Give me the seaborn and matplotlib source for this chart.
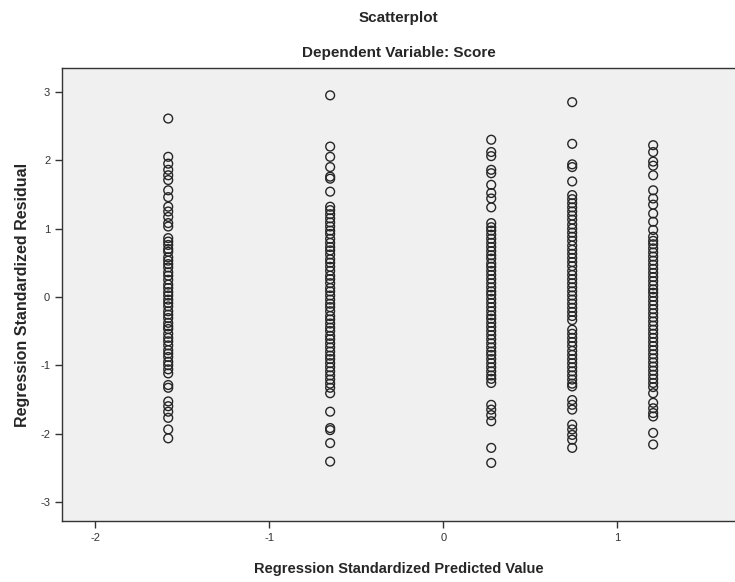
import matplotlib
matplotlib.use("Agg")
import matplotlib.pyplot as plt
import pandas as pd
import seaborn as sns

# standardized predicted values (one per group)
predicted = [-1.58, -0.65, 0.275, 0.74, 1.205]

# standardized residuals
resid_1 = [2.61, 2.05, 1.95, 1.86, 1.78, 1.71, 1.56, 1.46, 1.32, 1.25, 1.17, 1.08, 1.03,
           0.86, 0.81, 0.76, 0.70, 0.66, 0.58, 0.53, 0.48, 0.43, 0.36, 0.31, 0.25, 0.18,
           0.13, 0.07, 0.02, -0.04, -0.09, -0.14, -0.21, -0.26, -0.31, -0.38, -0.43, -0.47,
           -0.54, -0.60, -0.65, -0.71, -0.78, -0.83, -0.88, -0.95, -1.00, -1.06, -1.12,
           -1.29, -1.33, -1.53, -1.60, -1.68, -1.77, -1.94, -2.07]
resid_2 = [2.95, 2.20, 2.05, 1.90, 1.76, 1.73, 1.54,
           1.32, 1.27, 1.21, 1.15, 1.09, 1.03, 0.97, 0.92, 0.85, 0.79, 0.73, 0.68, 0.62,
           0.55, 0.50, 0.44, 0.38, 0.31, 0.26, 0.20, 0.13, 0.08, 0.02, -0.04, -0.10, -0.15,
           -0.21, -0.28, -0.33, -0.39, -0.45, -0.50, -0.57, -0.62, -0.68, -0.74, -0.80,
           -0.86, -0.91, -0.97, -1.03, -1.09, -1.15, -1.21, -1.27, -1.33, -1.41,
           -1.68, -1.92, -1.95, -2.14, -2.41]
resid_3 = [2.30, 2.12, 2.06, 1.86, 1.81, 1.64, 1.52, 1.44, 1.31,
           1.08, 1.02, 0.97, 0.91, 0.85, 0.79, 0.73, 0.67, 0.61, 0.56, 0.49, 0.44, 0.38,
           0.32, 0.26, 0.20, 0.14, 0.08, 0.03, -0.03, -0.09, -0.15, -0.21, -0.27, -0.32,
           -0.38, -0.44, -0.50, -0.56, -0.62, -0.68, -0.74, -0.80, -0.85, -0.91, -0.97,
           -1.03, -1.09, -1.15, -1.20, -1.26,
           -1.58, -1.65, -1.73, -1.82, -2.21, -2.43]
resid_4 = [2.85, 2.24, 1.94, 1.90, 1.69,
           1.49, 1.43, 1.37, 1.31, 1.25, 1.19, 1.13, 1.06, 1.00, 0.94, 0.88, 0.82, 0.75,
           0.69, 0.63, 0.57, 0.51, 0.45, 0.38, 0.32, 0.26, 0.20, 0.14, 0.08, 0.02, -0.04,
           -0.10, -0.16, -0.22, -0.28, -0.34,
           -0.48, -0.54, -0.60, -0.66, -0.72, -0.79, -0.85, -0.91, -0.97, -1.03, -1.09,
           -1.15, -1.21, -1.27, -1.31,
           -1.51, -1.58, -1.65, -1.87, -1.94, -2.02, -2.09, -2.21]
resid_5 = [2.22, 2.12, 1.98, 1.92, 1.78, 1.56, 1.44, 1.35, 1.22, 1.10, 0.98,
           0.88, 0.82, 0.77, 0.71, 0.65, 0.59, 0.53, 0.47, 0.41, 0.35, 0.29, 0.23, 0.17,
           0.11, 0.06, 0.00, -0.06, -0.12, -0.18, -0.24, -0.30, -0.36, -0.42, -0.48, -0.54,
           -0.60, -0.66, -0.72, -0.78, -0.84, -0.90, -0.96, -1.02, -1.08, -1.14, -1.20,
           -1.26, -1.32, -1.41,
           -1.55, -1.63, -1.70, -1.75, -1.99, -2.16]

residuals = [resid_1, resid_2, resid_3, resid_4, resid_5]

rows = []
for xv, ys in zip(predicted, residuals):
    for yv in ys:
        rows.append({"pred": xv, "resid": yv})
df = pd.DataFrame(rows)

sns.set_theme(style="ticks", rc={"axes.facecolor": "#F0F0F0",
                                 "axes.edgecolor": "#333333",
                                 "axes.linewidth": 1.0})
plt.rcParams["font.family"] = ["Liberation Sans", "DejaVu Sans"]
plt.rcParams["axes.unicode_minus"] = False

fig = plt.figure(figsize=(7.35, 5.82), dpi=100)
ax = fig.add_axes([62 / 735, 61 / 582, 673 / 735, 453 / 582])

sns.scatterplot(data=df, x="pred", y="resid", ax=ax, marker="o",
                facecolor="none", edgecolor="#262626", linewidth=1.0, s=40,
                legend=False)

ax.set_xlim(-2.19, 1.675)
ax.set_ylim(-3.28, 3.35)
ax.set_xticks([-2, -1, 0, 1])
ax.set_yticks([-3, -2, -1, 0, 1, 2, 3])
ax.tick_params(axis="both", labelsize=8, length=5, width=1, color="#333333",
               labelcolor="#333333")
ax.spines["right"].set_visible(False)

ax.set_xlabel("Regression Standardized Predicted Value", fontsize=10.5,
              fontweight="bold", labelpad=14)
ax.set_ylabel("Regression Standardized Residual", fontsize=11.5,
              fontweight="bold", labelpad=7)

fig.text(0.5425, 1 - 18 / 582, "Scatterplot", ha="center", va="center",
         fontsize=11, fontweight="bold")
fig.text(0.5425, 1 - 53 / 582, "Dependent Variable: Score", ha="center",
         va="center", fontsize=11, fontweight="bold")

fig.savefig("out.png", dpi=100)
